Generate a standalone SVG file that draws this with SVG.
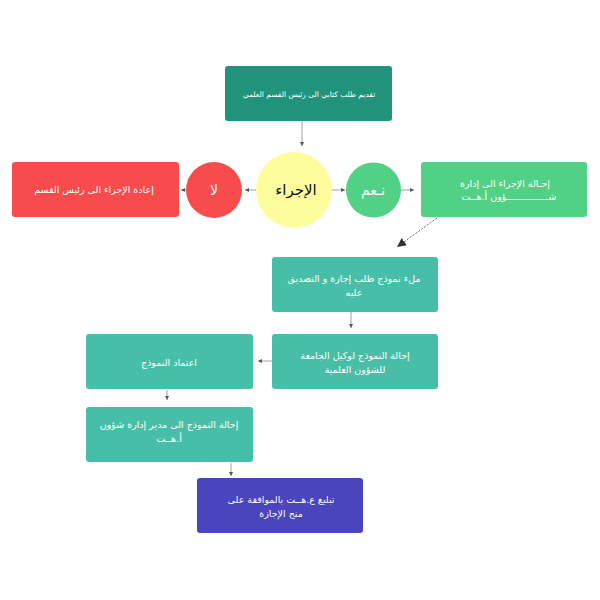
<svg xmlns="http://www.w3.org/2000/svg" width="600" height="600" viewBox="0 0 600 600">
<defs>
<style>
.t{font-family:"DejaVu Sans","Noto Sans",sans-serif;fill:#ffffff;text-anchor:middle;direction:rtl;font-size:9.5px}
.c{stroke:#8a8a8a;stroke-width:0.8;fill:none}
</style>
<marker id="ah" viewBox="0 0 6 6" refX="6" refY="3" markerWidth="4" markerHeight="4" orient="auto" markerUnits="userSpaceOnUse">
<path d="M0,0 L6,3 L0,6 z" fill="#555"/>
</marker>
<marker id="ah2" viewBox="0 0 10 10" refX="10" refY="5" markerWidth="9" markerHeight="9" orient="auto" markerUnits="userSpaceOnUse">
<path d="M0,0 L10,5 L0,10 z" fill="#333"/>
</marker>
</defs>
<rect width="600" height="600" fill="#ffffff"/>
<g id="connectors">
<line class="c" x1="302" y1="121" x2="302" y2="146" marker-end="url(#ah)"/>
<line class="c" x1="256" y1="190" x2="245" y2="190" marker-end="url(#ah)"/>
<line class="c" x1="186" y1="190" x2="181" y2="190" marker-end="url(#ah)"/>
<line class="c" x1="332" y1="190" x2="345" y2="190" marker-end="url(#ah)"/>
<line class="c" x1="401" y1="190" x2="414" y2="190" marker-end="url(#ah)"/>
<line x1="437" y1="218" x2="397" y2="247" stroke="#444" stroke-width="0.8" stroke-dasharray="2,1.5" marker-end="url(#ah2)"/>
<line class="c" x1="351" y1="312" x2="351" y2="328" marker-end="url(#ah)"/>
<line class="c" x1="272" y1="361" x2="258" y2="361" marker-end="url(#ah)"/>
<line class="c" x1="167" y1="390" x2="167" y2="400" marker-end="url(#ah)"/>
<line class="c" x1="231" y1="463" x2="231" y2="476" marker-end="url(#ah)"/>
</g>
<g id="n1">
<rect x="225" y="66" width="167" height="55" rx="3" fill="#20937a"/>
<text class="t" x="309" y="97" style="font-size:7.5px">تقديم طلب كتابي الى رئيس القسم العلمي</text>
</g>
<g id="n2">
<circle cx="294" cy="190" r="38" fill="#fdfd9e"/>
<text class="t" x="296" y="195" style="font-size:15px;fill:#111">الإجراء</text>
</g>
<g id="n3">
<circle cx="214" cy="190" r="28" fill="#f84b4b"/>
<text class="t" x="214" y="195" style="font-size:14px">لا</text>
</g>
<g id="n4">
<rect x="12" y="162" width="167" height="55" rx="3" fill="#f84b4b"/>
<text class="t" x="94" y="193">إعادة  الإجراء الى رئيس القسم</text>
</g>
<g id="n5">
<circle cx="373.5" cy="190" r="27.5" fill="#51d185"/>
<text class="t" x="373" y="195" style="font-size:14px">نـعم</text>
</g>
<g id="n6">
<rect x="421" y="162" width="166" height="55" rx="3" fill="#51d185"/>
<text class="t" x="505" y="187">إحـالة الإجراء الى إدارة</text>
<text class="t" x="509" y="200">شـــــــــــــــؤون أ.هــت</text>
</g>
<g id="n7">
<rect x="272" y="257" width="166" height="55" rx="3" fill="#47bfa8"/>
<text class="t" x="354" y="282">ملء نموذج طلب إجازة و التصديق</text>
<text class="t" x="354" y="296">عليه</text>
</g>
<g id="n8">
<rect x="272" y="334" width="166" height="55" rx="3" fill="#47bfa8"/>
<text class="t" x="355" y="359">إحالة النموذج لوكيل الجامعة</text>
<text class="t" x="355" y="373">للشؤون العلمية</text>
</g>
<g id="n9">
<rect x="86" y="334" width="167" height="55" rx="3" fill="#47bfa8"/>
<text class="t" x="169" y="366">اعتماد النموذج</text>
</g>
<g id="n10">
<rect x="86" y="407" width="167" height="55" rx="3" fill="#47bfa8"/>
<text class="t" x="169" y="428">إحالة النموذج الى مدير إدارة شؤون</text>
<text class="t" x="169" y="442">أ.هــت</text>
</g>
<g id="n11">
<rect x="197" y="478" width="166" height="55" rx="3" fill="#4a45bd"/>
<text class="t" x="281" y="503">تبليغ ع.هــت بالموافقة على</text>
<text class="t" x="281" y="517">منح الإجازة</text>
</g>
</svg>
